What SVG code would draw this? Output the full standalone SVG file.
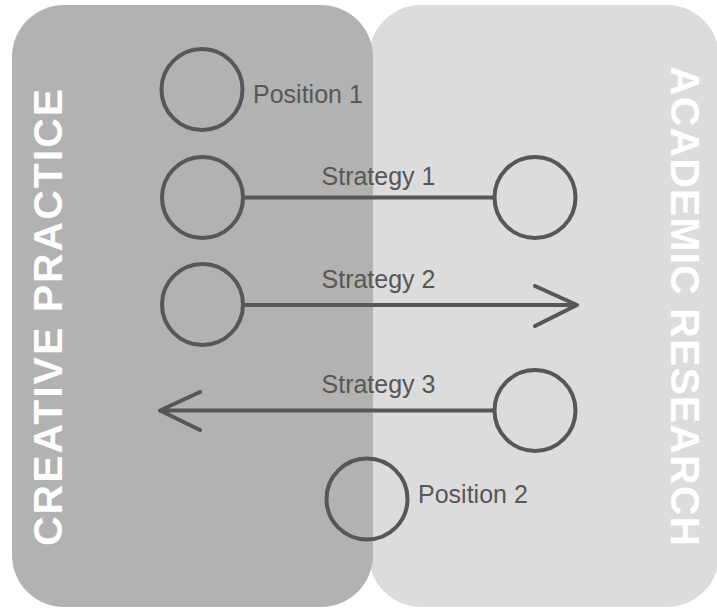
<svg xmlns="http://www.w3.org/2000/svg" width="717" height="609" viewBox="0 0 717 609">
  <style>
    .node { fill: none; stroke: #575757; stroke-width: 4; }
    .link { fill: none; stroke: #575757; stroke-width: 4; stroke-linecap: round; stroke-linejoin: round; }
    .label { font-family: "Liberation Sans", Arial, sans-serif; font-size: 25px; fill: #575757; }
    .band { font-family: "Liberation Sans", Arial, sans-serif; font-size: 41px; font-weight: bold; fill: #ffffff; letter-spacing: 2px; }
  </style>
  <rect width="717" height="609" fill="#ffffff"/>

  <!-- two overlapping domains -->
  <g id="academic-research">
    <rect x="369" y="5" width="350" height="602" rx="52" ry="52" fill="#dcdcdc"/>
    <text class="band" style="letter-spacing:1.1px" transform="translate(671,66) rotate(90)">ACADEMIC RESEARCH</text>
  </g>
  <g id="creative-practice">
    <rect x="12" y="5" width="361" height="602" rx="52" ry="52" fill="#b2b2b2"/>
    <text class="band" transform="translate(62,546) rotate(-90)">CREATIVE PRACTICE</text>
  </g>

  <!-- connectors -->
  <g id="connectors">
    <line class="link" x1="243" y1="197.5" x2="494" y2="197.5"/>
    <path class="link" d="M243,305 H577 M535,286 L577,305 L535,326"/>
    <path class="link" d="M494,410.5 H160 M200,392 L160,410.5 L200,430"/>
  </g>

  <g id="position-1">
    <circle class="node" cx="202" cy="89.5" r="40.5"/>
    <text class="label" x="253" y="103">Position 1</text>
  </g>
  <g id="strategy-1">
    <circle class="node" cx="202.5" cy="197.5" r="40.5"/>
    <circle class="node" cx="535" cy="197.5" r="40.5"/>
    <text class="label" x="378.5" y="185" text-anchor="middle">Strategy 1</text>
  </g>
  <g id="strategy-2">
    <circle class="node" cx="202.5" cy="304.5" r="40.5"/>
    <text class="label" x="378.5" y="288" text-anchor="middle">Strategy 2</text>
  </g>
  <g id="strategy-3">
    <circle class="node" cx="535" cy="410.5" r="40.5"/>
    <text class="label" x="378.5" y="393" text-anchor="middle">Strategy 3</text>
  </g>
  <g id="position-2">
    <circle class="node" cx="367" cy="499" r="40.5"/>
    <text class="label" x="418" y="503">Position 2</text>
  </g>
</svg>
